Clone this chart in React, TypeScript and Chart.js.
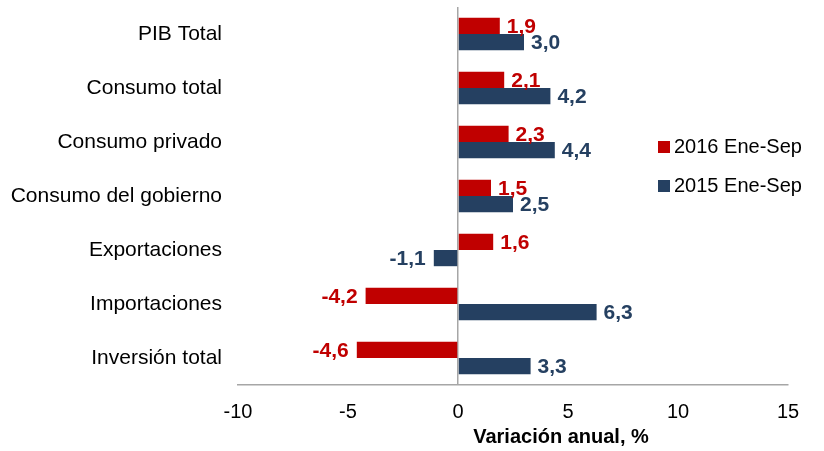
import { useEffect, useRef } from "react";
import { Chart, registerables } from "chart.js";

Chart.register(...registerables);

const categories = [
  "PIB Total",
  "Consumo total",
  "Consumo privado",
  "Consumo del gobierno",
  "Exportaciones",
  "Importaciones",
  "Inversión total",
];
const series2016 = [1.9, 2.1, 2.3, 1.5, 1.6, -4.2, -4.6];
const series2015 = [3.0, 4.2, 4.4, 2.5, -1.1, 6.3, 3.3];
const seriesLabels = ["2016 Ene-Sep", "2015 Ene-Sep"];
const xTickValues = [-10, -5, 0, 5, 10, 15];
const axisTitle = "Variación anual, %";

const RED = "#C00000";
const BLUE = "#254061";
const FONT = "'Liberation Sans', Arial, sans-serif";

const fmt = (v: number) => v.toFixed(1).replace(".", ",");

const valueLabels = {
  id: "valueLabels",
  afterDatasetsDraw(chart: any) {
    const ctx = chart.ctx;
    ctx.save();
    ctx.font = `bold 21px ${FONT}`;
    ctx.textBaseline = "middle";
    chart.data.datasets.forEach((ds: any, di: number) => {
      const meta = chart.getDatasetMeta(di);
      meta.data.forEach((el: any, i: number) => {
        const v = ds.data[i];
        ctx.fillStyle = ds.backgroundColor;
        if (v >= 0) {
          ctx.textAlign = "left";
          ctx.fillText(fmt(v), el.x + 7, el.y + 1);
        } else {
          ctx.textAlign = "right";
          ctx.fillText(fmt(v), el.x - 8, el.y + 1);
        }
      });
    });
    ctx.restore();
  },
};

const sideLegend = {
  id: "sideLegend",
  afterDraw(chart: any) {
    const ctx = chart.ctx;
    ctx.save();
    ctx.font = `20px ${FONT}`;
    ctx.textBaseline = "middle";
    ctx.textAlign = "left";
    const x0 = chart.width - 166;
    const ys = [147, 186];
    chart.data.datasets.forEach((ds: any, di: number) => {
      ctx.fillStyle = ds.backgroundColor;
      ctx.fillRect(x0, ys[di] - 6, 12, 12);
      ctx.fillStyle = "#000000";
      ctx.fillText(ds.label, x0 + 16, ys[di]);
    });
    ctx.restore();
  },
};

const bottomTitle = {
  id: "bottomTitle",
  afterDraw(chart: any) {
    const ctx = chart.ctx;
    ctx.save();
    ctx.font = `bold 20px ${FONT}`;
    ctx.textBaseline = "middle";
    ctx.textAlign = "center";
    ctx.fillStyle = "#000000";
    ctx.fillText(axisTitle, 561, 437);
    ctx.restore();
  },
};

export default function App() {
  const ref = useRef<HTMLCanvasElement | null>(null);
  useEffect(() => {
    if (!ref.current) return;
    const chart = new Chart(ref.current, {
      type: "bar",
      data: {
        labels: categories,
        datasets: [
          {
            label: seriesLabels[0],
            data: series2016,
            backgroundColor: RED,
            categoryPercentage: 0.6,
            barPercentage: 1,
          },
          {
            label: seriesLabels[1],
            data: series2015,
            backgroundColor: BLUE,
            categoryPercentage: 0.6,
            barPercentage: 1,
          },
        ],
      },
      options: {
        indexAxis: "y",
        animation: false,
        responsive: true,
        maintainAspectRatio: false,
        layout: { padding: { top: 7, right: 36, bottom: 0, left: 0 } },
        plugins: {
          legend: { display: false },
          tooltip: { enabled: false },
        },
        scales: {
          x: {
            type: "linear",
            min: -10,
            max: 15,
            afterBuildTicks(scale: any) {
              scale.ticks = xTickValues.map((v) => ({ value: v }));
            },
            afterFit(scale: any) {
              scale.height = 66;
            },
            ticks: {
              font: { family: FONT, size: 20 },
              color: "#000000",
              padding: 15,
              maxRotation: 0,
            },
            grid: {
              drawTicks: false,
              color: (c: any) => (c.tick && c.tick.value === 0 ? "#A6A6A6" : "rgba(0,0,0,0)"),
              lineWidth: 1.5,
            },
            border: { display: true, color: "#A6A6A6", width: 1.5 },
          },
          y: {
            afterFit(scale: any) {
              scale.width = 238;
              scale.paddingTop = 0;
              scale.paddingBottom = 0;
            },
            ticks: {
              font: { family: FONT, size: 21 },
              color: "#000000",
              padding: 16,
            },
            grid: { display: false, drawTicks: false },
            border: { display: false },
          },
        },
      },
      plugins: [valueLabels, sideLegend, bottomTitle],
    });
    return () => chart.destroy();
  }, []);
  return (
    <div style={{ position: "fixed", left: 0, top: 0, width: 824, height: 451, background: "#fff" }}>
      <canvas ref={ref} />
    </div>
  );
}
